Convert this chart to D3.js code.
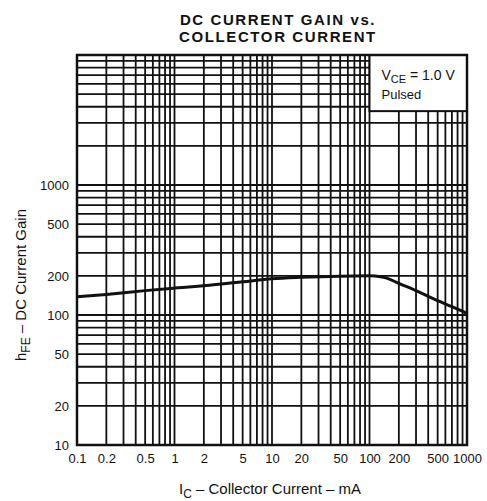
<!DOCTYPE html>
<html>
<head>
<meta charset="utf-8">
<script src="https://cdn.jsdelivr.net/npm/d3@7"></script>
<style>
  body { margin: 0; background: #fff; }
  text { font-family: "Liberation Sans", Arial, sans-serif; fill: #111; }
</style>
</head>
<body>
<svg id="chart" width="487" height="501"></svg>
<script>
// collector current (mA) vs hFE
const currentMA = [0.1, 0.2, 0.5, 1, 2, 5, 10, 20, 50, 100, 130, 150, 200, 300, 400, 500, 700, 1000];
const gain = [138, 144, 154, 161, 168, 180, 190, 195, 199, 200, 197, 192, 175, 154, 139, 129, 116, 103];

const xTicks = [0.1, 0.2, 0.5, 1, 2, 5, 10, 20, 50, 100, 200, 500, 1000];
const yTicks = [10, 20, 50, 100, 200, 500, 1000];

const svg = d3.select('#chart');
const margin = { top: 55, right: 20, bottom: 56, left: 77 };
const width = +svg.attr('width') - margin.left - margin.right;
const height = +svg.attr('height') - margin.top - margin.bottom;

const x = d3.scaleLog().domain([0.1, 1000]).range([0, width]);
const y = d3.scaleLog().domain([10, 10000]).range([height, 0]);

const g = svg.append('g').attr('transform', `translate(${margin.left},${margin.top})`);

// full log grid: 1..9 per decade
const gridX = [];
for (let d = 0.1; d < 1000; d *= 10) for (let k = 1; k < 10; k++) gridX.push(d * k);
const gridY = [];
for (let d = 10; d < 10000; d *= 10) for (let k = 1; k < 10; k++) gridY.push(d * k);

g.selectAll('.gx').data(gridX).enter().append('line')
  .attr('x1', d => x(d)).attr('x2', d => x(d))
  .attr('y1', 0).attr('y2', height)
  .attr('stroke', '#111').attr('stroke-width', 1.8);

g.selectAll('.gy').data(gridY).enter().append('line')
  .attr('y1', d => y(d)).attr('y2', d => y(d))
  .attr('x1', 0).attr('x2', width)
  .attr('stroke', '#111').attr('stroke-width', 1.8);

// legend box blanks out the grid in the top right corner
const boxX = x(100), boxY = y(3700);
g.append('rect')
  .attr('x', boxX).attr('y', 0)
  .attr('width', width - boxX).attr('height', boxY)
  .attr('fill', '#fff').attr('stroke', '#111').attr('stroke-width', 2);

const leg = g.append('text').attr('x', boxX + 12).attr('y', 25).attr('font-size', 14);
leg.append('tspan').text('V');
leg.append('tspan').text('CE').attr('font-size', 11).attr('dy', 3);
leg.append('tspan').text(' = 1.0 V').attr('dy', -3);
g.append('text').attr('x', boxX + 12).attr('y', 44).attr('font-size', 13).text('Pulsed');

// frame
g.append('rect').attr('width', width).attr('height', height)
  .attr('fill', 'none').attr('stroke', '#111').attr('stroke-width', 2.5);

// curve
const line = d3.line().x(d => x(d[0])).y(d => y(d[1])).curve(d3.curveMonotoneX);
g.append('path')
  .datum(currentMA.map((c, i) => [c, gain[i]]))
  .attr('d', line)
  .attr('fill', 'none').attr('stroke', '#111').attr('stroke-width', 3);

// axes (labels only)
const xAxis = g.append('g').attr('transform', `translate(0,${height})`)
  .call(d3.axisBottom(x).tickValues(xTicks).tickSize(0).tickPadding(9).tickFormat(d3.format('~g')));
const yAxis = g.append('g')
  .call(d3.axisLeft(y).tickValues(yTicks).tickSize(0).tickPadding(8).tickFormat(d3.format('~g')));
[xAxis, yAxis].forEach(a => {
  a.select('.domain').remove();
  a.selectAll('text').attr('font-size', 13).attr('font-family', '"Liberation Sans", Arial, sans-serif').attr('fill', '#111');
});

// title
const title = svg.append('text').attr('text-anchor', 'middle')
  .attr('font-size', 15).attr('font-weight', 'bold').attr('letter-spacing', 1.6);
title.append('tspan').attr('x', 278).attr('y', 25).text('DC CURRENT GAIN vs.');
title.append('tspan').attr('x', 278).attr('y', 42).text('COLLECTOR CURRENT');

// x label
const xl = svg.append('text').attr('x', 270).attr('y', 494).attr('text-anchor', 'middle').attr('font-size', 15);
xl.append('tspan').text('I');
xl.append('tspan').text('C').attr('font-size', 12).attr('dy', 4);
xl.append('tspan').text(' \u2013 Collector  Current \u2013 mA').attr('dy', -4);

// y label
const yl = svg.append('text').attr('transform', 'translate(26,285) rotate(-90)')
  .attr('text-anchor', 'middle').attr('font-size', 15);
yl.append('tspan').text('h');
yl.append('tspan').text('FE').attr('font-size', 12).attr('dy', 4);
yl.append('tspan').text(' \u2013 DC  Current  Gain').attr('dy', -4);
</script>
</body>
</html>
